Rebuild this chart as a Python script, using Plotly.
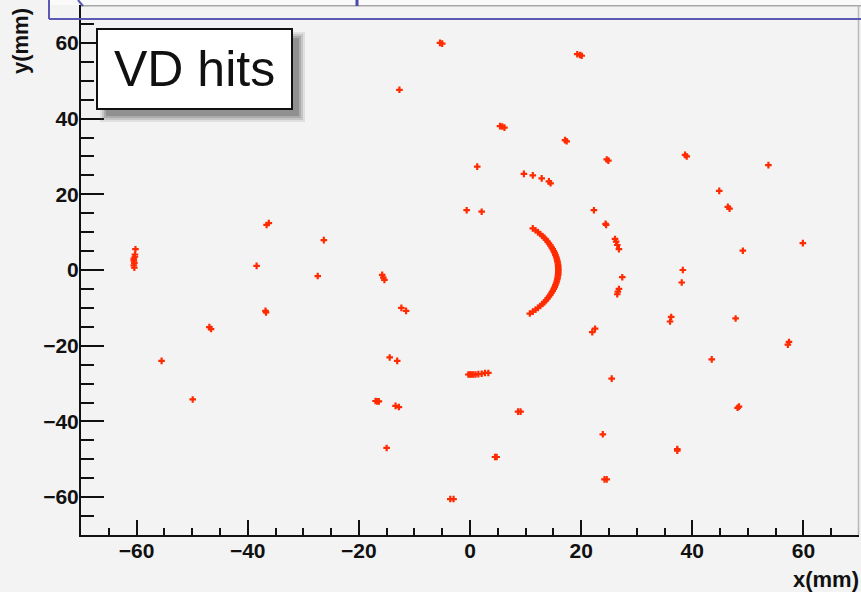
import plotly.graph_objects as go

# ---------------- data ----------------
hits_x = [
    -5.4, -5.0, -12.7, 19.3, 19.8, 20.1, 5.4, 5.8, 6.2, 17.1, 17.4, 24.6, 24.9,
    38.7, 39.0, 53.7, 1.3, 9.7, 11.3, 12.9, 14.2, 14.5, 44.85, 46.4, 46.7,
    -0.6, 2.1, 22.3, 24.4, 24.5, 26.1, 26.3, 26.5, 26.8, 49.1, 59.9,
    -36.6, -36.2, -26.3, -38.4,
    -60.2, -60.3, -60.3, -60.5, -60.5, -60.4, -60.5, -60.4,
    38.3, 38.1, 27.4, 26.8, 26.6, 26.5, -27.4, -15.8, -15.6, -15.4,
    -36.8, -36.7, -46.9, -46.6, -12.35, -11.5, 36.2, 36.0, 47.8, 57.4, 57.2,
    22.5, 22.0, 43.5, -14.45, -13.1, -55.5,
    -0.3, 0.0, 0.3, 0.6, 1.0, 1.5, 2.1, 2.7, 3.3,
    25.5, -49.9, -17.0, -16.7, -16.4, -13.4, -12.8, 48.15, 48.4, 8.65, 9.1,
    23.9, -15.0, 37.3, 37.3, 4.5, 4.8, 24.2, 24.6, -3.55, -2.96,
]
hits_y = [
    60.0, 59.8, 47.6, 57.0, 56.8, 56.6, 38.0, 37.9, 37.6, 34.3, 34.0, 29.2, 28.9,
    30.4, 30.0, 27.7, 27.3, 25.4, 25.0, 24.2, 23.4, 22.9, 20.9, 16.7, 16.2,
    15.8, 15.4, 15.8, 12.2, 11.9, 8.2, 7.5, 6.6, 5.5, 5.1, 7.1,
    11.9, 12.4, 7.9, 1.1,
    5.5, 4.1, 3.5, 3.0, 2.5, 1.9, 1.2, 0.6,
    0.0, -3.3, -1.9, -5.0, -5.7, -6.4, -1.6, -1.3, -2.0, -2.6,
    -10.8, -11.2, -15.1, -15.6, -10.0, -10.8, -12.4, -13.6, -12.8, -19.0, -19.7,
    -15.5, -16.4, -23.6, -23.1, -24.0, -24.0,
    -27.6, -27.6, -27.6, -27.6, -27.6, -27.5, -27.4, -27.2, -27.2,
    -28.7, -34.2, -34.6, -34.7, -34.7, -35.9, -36.2, -36.4, -36.1, -37.4, -37.4,
    -43.4, -47.0, -47.3, -47.7, -49.4, -49.4, -55.3, -55.3, -60.5, -60.5,
]
# inner arc of hits
arc_x = [11.30, 11.79, 12.23, 12.64, 13.01, 13.35, 13.67, 13.96, 14.22, 14.47,
         14.69, 14.89, 15.07, 15.23, 15.37, 15.50, 15.61, 15.70, 15.77, 15.83,
         15.87, 15.89, 15.90, 15.89, 15.87, 15.83, 15.77, 15.70, 15.61, 15.50,
         15.37, 15.23, 15.07, 14.89, 14.69, 14.47, 14.22, 13.96, 13.67, 13.35,
         13.01, 12.64, 12.23, 11.79, 11.30, 10.77]
arc_y = [11.0, 10.5, 10.0, 9.5, 9.0, 8.5, 8.0, 7.5, 7.0, 6.5,
         6.0, 5.5, 5.0, 4.5, 4.0, 3.5, 3.0, 2.5, 2.0, 1.5,
         1.0, 0.5, 0.0, -0.5, -1.0, -1.5, -2.0, -2.5, -3.0, -3.5,
         -4.0, -4.5, -5.0, -5.5, -6.0, -6.5, -7.0, -7.5, -8.0, -8.5,
         -9.0, -9.5, -10.0, -10.5, -11.0, -11.5]

x_ticks = [-60, -40, -20, 0, 20, 40, 60]
y_ticks = [-60, -40, -20, 0, 20, 40, 60]

# ---------------- figure ----------------
W, H = 861, 592
L, R, T, B = 81, 2, 5, 57
PW, PH = W - L - R, H - T - B


def px(x):
    return (x - L) / PW


def py(y):
    return (H - B - y) / PH


RED = "#ff2a00"
BG = "#f3f3f3"
FONT = "Liberation Sans, Arial, Helvetica, sans-serif"

fig = go.Figure()
fig.add_trace(go.Scatter(
    x=hits_x + arc_x, y=hits_y + arc_y, mode="markers",
    marker=dict(symbol="cross", size=5.5, color=RED, line=dict(width=0)),
    hoverinfo="x+y", showlegend=False,
))

axis_common = dict(
    showgrid=False, zeroline=False, showline=True, linecolor="#111111",
    linewidth=2, ticks="inside", tickwidth=2, tickcolor="#111111",
    ticklabelstandoff=-4,
    tickfont=dict(family=FONT, size=21, color="#111111", weight="bold"),
)
fig.update_xaxes(range=[-70, 70], tickvals=x_ticks, ticklen=15,
                 minor=dict(ticks="inside", dtick=5, ticklen=7, tickwidth=2,
                            tickcolor="#111111", tick0=0),
                 **axis_common)
fig.update_yaxes(range=[-70, 70], tickvals=y_ticks, ticklen=23,
                 minor=dict(ticks="inside", dtick=5, ticklen=13, tickwidth=2,
                            tickcolor="#111111", tick0=0),
                 **axis_common)

shapes = []
# frame top/right (grey)
shapes.append(dict(type="line", xref="paper", yref="paper", x0=px(81), x1=px(861),
                   y0=py(5.7), y1=py(5.7), line=dict(color="#a8a8a8", width=1.5)))
shapes.append(dict(type="line", xref="paper", yref="paper", x0=px(858.5), x1=px(858.5),
                   y0=py(5.7), y1=py(535), line=dict(color="#b8b8b8", width=1.5)))
# slide decoration at top
shapes.append(dict(type="rect", xref="paper", yref="paper", x0=px(49), x1=px(861),
                   y0=py(0), y1=py(5), fillcolor="#fafafa", line=dict(width=0)))
shapes.append(dict(type="line", xref="paper", yref="paper", x0=px(49), x1=px(861),
                   y0=py(19), y1=py(19), line=dict(color="#5a5ab4", width=2)))
shapes.append(dict(type="line", xref="paper", yref="paper", x0=px(49), x1=px(49),
                   y0=py(0), y1=py(19), line=dict(color="#5a5ab4", width=2)))
shapes.append(dict(type="line", xref="paper", yref="paper", x0=px(78), x1=px(83),
                   y0=py(0), y1=py(6), line=dict(color="#5a5ab4", width=2)))
shapes.append(dict(type="line", xref="paper", yref="paper", x0=px(357), x1=px(357),
                   y0=py(0), y1=py(6), line=dict(color="#4a4aa8", width=3)))
# text-box shadow
for b, op in [(5, 0.10), (3, 0.14), (1, 0.18), (-1, 0.22)]:
    shapes.append(dict(type="rect", xref="paper", yref="paper",
                       x0=px(97 + 8 - b), x1=px(292 + 8 + b),
                       y0=py(29 + 8 - b), y1=py(109 + 8 + b),
                       fillcolor="#303030", opacity=op, line=dict(width=0)))
# text box
shapes.append(dict(type="rect", xref="paper", yref="paper", x0=px(97), x1=px(292),
                   y0=py(29), y1=py(109), fillcolor="white",
                   line=dict(color="#111111", width=2)))
fig.update_layout(shapes=shapes)

fig.add_annotation(text="VD hits", xref="paper", yref="paper",
                   x=px(194.5), y=py(69), xanchor="center", yanchor="middle",
                   showarrow=False, font=dict(family=FONT, size=50, color="#111111"))
fig.add_annotation(text="y(mm)", xref="paper", yref="paper", textangle=-90,
                   x=px(20), y=py(6), xanchor="center", yanchor="top",
                   showarrow=False,
                   font=dict(family=FONT, size=22, color="#111111", weight="bold"))
fig.add_annotation(text="x(mm)", xref="paper", yref="paper",
                   x=px(861), y=py(579), xanchor="right", yanchor="middle",
                   showarrow=False,
                   font=dict(family=FONT, size=22, color="#111111", weight="bold"))

fig.update_layout(
    width=W, height=H, autosize=False,
    margin=dict(l=L, r=R, t=T, b=B, pad=0),
    paper_bgcolor=BG, plot_bgcolor=BG,
    font=dict(family=FONT, color="#111111"),
)

fig.write_html("out.html",
               config={"displayModeBar": False},
               post_script="document.body.style.margin='0';"
                           "document.body.style.background='" + BG + "';")
